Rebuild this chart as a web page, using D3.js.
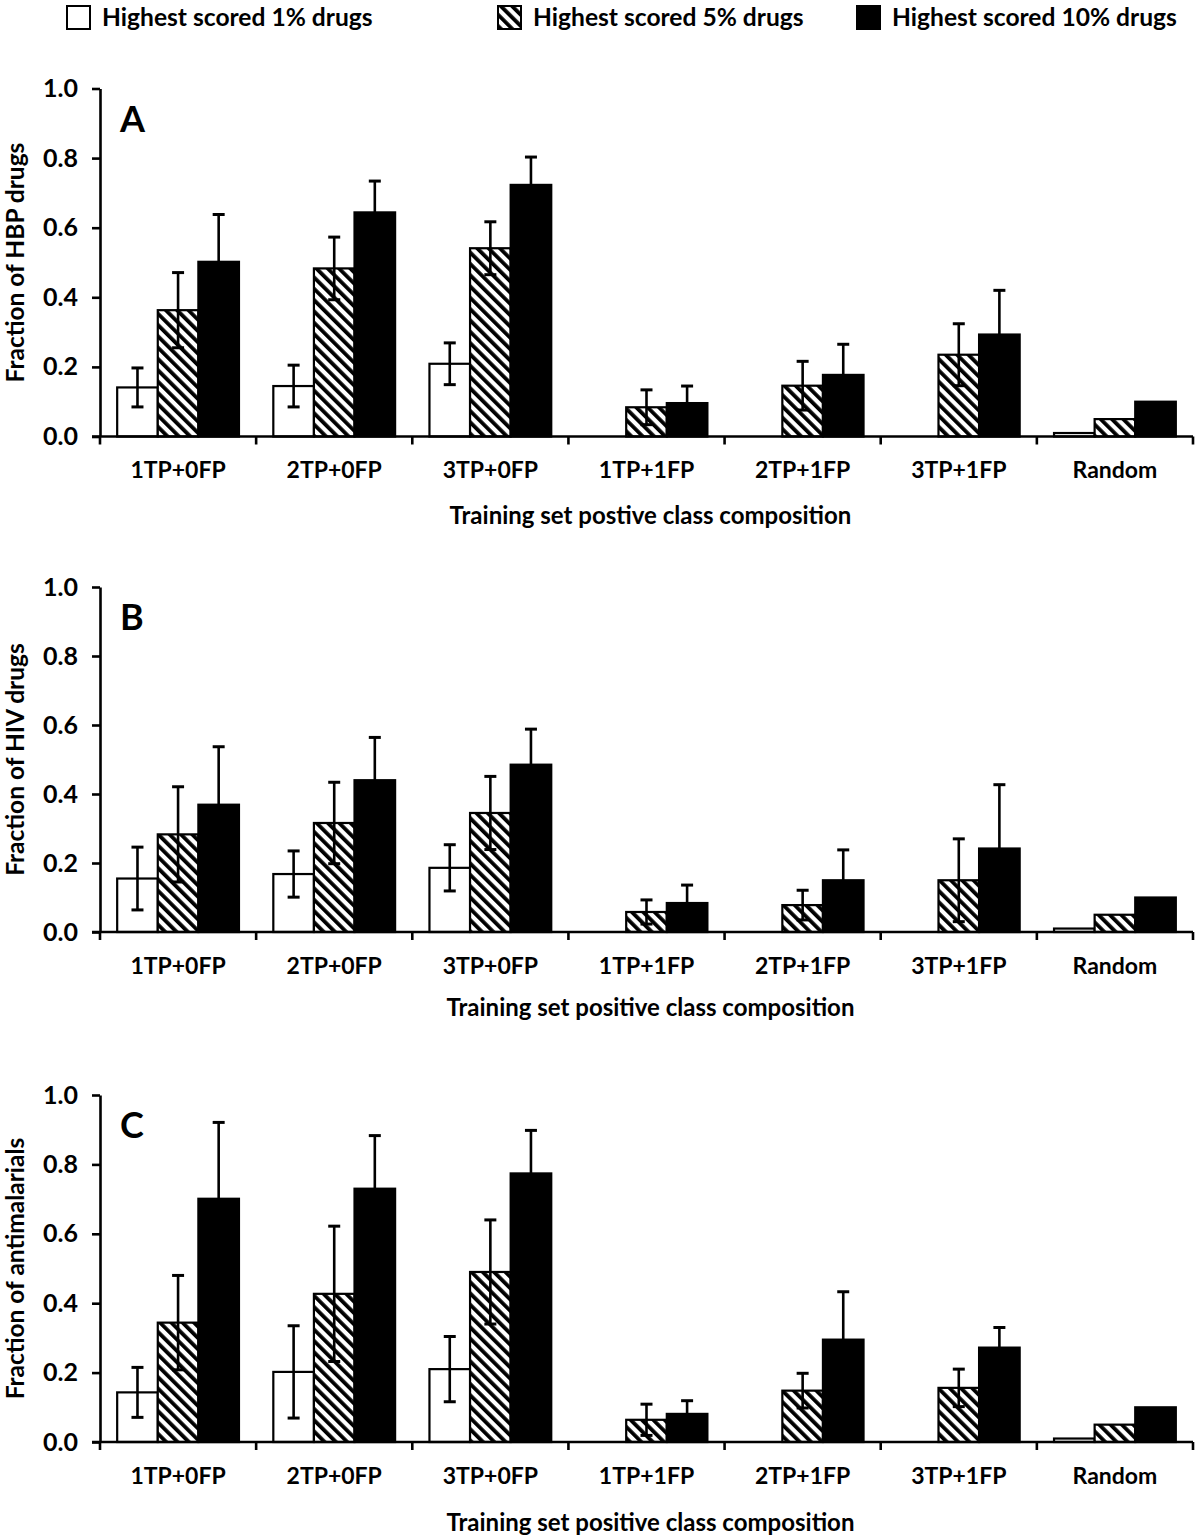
<!DOCTYPE html>
<html>
<head>
<meta charset="utf-8">
<script src="https://cdn.jsdelivr.net/npm/d3@7"></script>
<style>
  html, body { margin: 0; padding: 0; background: #fff; }
  svg text { font-family: Lato, "Open Sans", sans-serif; font-weight: bold; fill: #000; }
</style>
</head>
<body>
<svg id="chart" width="1200" height="1536"></svg>
<script>
// ---------- data ----------
const categories = ["1TP+0FP", "2TP+0FP", "3TP+0FP", "1TP+1FP", "2TP+1FP", "3TP+1FP", "Random"];
const seriesNames = ["Highest scored 1% drugs", "Highest scored 5% drugs", "Highest scored 10% drugs"];
const yTicks = [0.0, 0.2, 0.4, 0.6, 0.8, 1.0];

// Panel A: HBP drugs
const hbpTop1 = [0.141, 0.145, 0.209, 0, 0, 0, 0.01];
const hbpTop5 = [0.363, 0.483, 0.541, 0.084, 0.146, 0.235, 0.05];
const hbpTop10 = [0.502, 0.644, 0.723, 0.096, 0.177, 0.293, 0.10];
const hbpErr1 = [0.056, 0.060, 0.060, null, null, null, null];
const hbpErr5 = [0.108, 0.090, 0.076, 0.050, 0.070, 0.089, null];
const hbpErr10 = [0.136, 0.090, 0.080, 0.049, 0.088, 0.127, null];

// Panel B: HIV drugs
const hivTop1 = [0.155, 0.168, 0.186, 0, 0, 0, 0.01];
const hivTop5 = [0.283, 0.316, 0.345, 0.058, 0.078, 0.150, 0.05];
const hivTop10 = [0.369, 0.440, 0.485, 0.084, 0.150, 0.242, 0.10];
const hivErr1 = [0.091, 0.067, 0.067, null, null, null, null];
const hivErr5 = [0.138, 0.118, 0.106, 0.035, 0.043, 0.120, null];
const hivErr10 = [0.168, 0.124, 0.103, 0.052, 0.088, 0.185, null];

// Panel C: antimalarials
const malTop1 = [0.143, 0.202, 0.210, 0, 0, 0, 0.01];
const malTop5 = [0.344, 0.427, 0.490, 0.064, 0.148, 0.156, 0.05];
const malTop10 = [0.701, 0.730, 0.774, 0.081, 0.295, 0.272, 0.10];
const malErr1 = [0.072, 0.133, 0.094, null, null, null, null];
const malErr5 = [0.136, 0.195, 0.150, 0.045, 0.050, 0.054, null];
const malErr10 = [0.220, 0.153, 0.124, 0.038, 0.138, 0.058, null];

const panelLetters = ["A", "B", "C"];
const yTitles = ["Fraction of HBP drugs", "Fraction of HIV drugs", "Fraction of antimalarials"];
const xTitles = ["Training set postive class composition",
                 "Training set positive class composition",
                 "Training set positive class composition"];

const panelValues = [
  [hbpTop1, hbpTop5, hbpTop10],
  [hivTop1, hivTop5, hivTop10],
  [malTop1, malTop5, malTop10]
];
const panelErrors = [
  [hbpErr1, hbpErr5, hbpErr10],
  [hivErr1, hivErr5, hivErr10],
  [malErr1, malErr5, malErr10]
];

// ---------- layout ----------
const xLeft = 100, xRight = 1193;
const panelLayout = [
  { top: 88.5, base: 436.5, labelY: 470, titleY: 516 },
  { top: 587, base: 932, labelY: 966, titleY: 1008 },
  { top: 1095, base: 1442, labelY: 1476, titleY: 1523 }
];
const FONT = 24;

const svg = d3.select("#chart");

// hatch pattern
const defs = svg.append("defs");
const pat = defs.append("pattern")
  .attr("id", "hatch")
  .attr("patternUnits", "userSpaceOnUse")
  .attr("width", 8).attr("height", 8)
  .attr("patternTransform", "rotate(-45)");
pat.append("rect").attr("width", 8).attr("height", 8).attr("fill", "#fff");
pat.append("rect").attr("x", 0).attr("width", 3.8).attr("height", 8).attr("fill", "#000");

const fills = ["#fff", "url(#hatch)", "#000"];

const x = d3.scaleBand().domain(categories).range([xLeft, xRight])
  .paddingInner(0.22).paddingOuter(0.11);
const xs = d3.scaleBand().domain(d3.range(seriesNames.length)).range([0, x.bandwidth()]).padding(0);

// ---------- legend ----------
const legendX = [66, 497, 856];
const legend = svg.append("g");
seriesNames.forEach((name, i) => {
  const g = legend.append("g").attr("transform", `translate(${legendX[i]},5)`);
  g.append("rect").attr("x", 1).attr("y", 1).attr("width", 23).attr("height", 23)
    .attr("fill", fills[i]).attr("stroke", "#000").attr("stroke-width", 2);
  g.append("text").attr("x", 36).attr("y", 21).attr("font-size", 24.6).text(name);
});

// ---------- panels ----------
panelLayout.forEach((L, p) => {
  const y = d3.scaleLinear().domain([0, 1]).range([L.base, L.top]);
  const g = svg.append("g");

  // bars
  panelValues[p].forEach((vals, s) => {
    g.append("g").selectAll("rect")
      .data(categories.map((c, i) => ({ c, v: vals[i] })).filter(d => d.v > 0))
      .join("rect")
      .attr("x", d => x(d.c) + xs(s))
      .attr("y", d => y(d.v))
      .attr("width", xs.bandwidth())
      .attr("height", d => y(0) - y(d.v))
      .attr("fill", fills[s])
      .attr("stroke", "#000")
      .attr("stroke-width", 2.2);
  });

  // error bars
  panelErrors[p].forEach((errs, s) => {
    const vals = panelValues[p][s];
    const data = categories.map((c, i) => ({ c, v: vals[i], e: errs[i] })).filter(d => d.e != null);
    const eg = g.append("g").attr("stroke", "#000").attr("stroke-width", 2.6);
    data.forEach(d => {
      const cx = x(d.c) + xs(s) + xs.bandwidth() / 2;
      eg.append("line").attr("x1", cx).attr("x2", cx)
        .attr("y1", y(d.v + d.e)).attr("y2", y(Math.max(0, d.v - d.e)));
      eg.append("line").attr("x1", cx - 6).attr("x2", cx + 6)
        .attr("y1", y(d.v + d.e)).attr("y2", y(d.v + d.e)).attr("stroke-width", 3);
      eg.append("line").attr("x1", cx - 6).attr("x2", cx + 6)
        .attr("y1", y(Math.max(0, d.v - d.e))).attr("y2", y(Math.max(0, d.v - d.e))).attr("stroke-width", 3);
    });
  });

  // y axis
  const yAxis = d3.axisLeft(y).tickValues(yTicks).tickFormat(d3.format(".1f"))
    .tickSize(8).tickSizeOuter(0).tickPadding(14);
  const ya = g.append("g").attr("transform", `translate(${xLeft},0)`).call(yAxis);
  ya.select(".domain").attr("stroke-width", 2.6);
  ya.selectAll(".tick line").attr("stroke-width", 2.6);
  ya.selectAll(".tick text").attr("font-size", 25).attr("font-family", "Lato").attr("font-weight", "bold");

  // x axis: ticks at category boundaries
  const boundaries = categories.map(c => x(c) - x.step() * x.paddingInner() / 2).concat([xRight]);
  g.append("line").attr("x1", xLeft - 8).attr("x2", xRight)
    .attr("y1", L.base).attr("y2", L.base).attr("stroke", "#000").attr("stroke-width", 2.6);
  g.append("g").selectAll("line").data(boundaries).join("line")
    .attr("x1", d => d).attr("x2", d => d)
    .attr("y1", L.base).attr("y2", L.base + 8)
    .attr("stroke", "#000").attr("stroke-width", 2.6);
  g.append("g").selectAll("text").data(categories).join("text")
    .attr("x", d => x(d) + x.bandwidth() / 2)
    .attr("y", L.labelY + 8)
    .attr("text-anchor", "middle")
    .attr("font-size", 23)
    .text(d => d);

  // x title
  g.append("text").attr("x", (xLeft + xRight) / 2 + 4).attr("y", L.titleY + 8)
    .attr("text-anchor", "middle").attr("font-size", FONT).text(xTitles[p]);

  // y title
  g.append("text")
    .attr("transform", `translate(24,${(L.top + L.base) / 2}) rotate(-90)`)
    .attr("text-anchor", "middle").attr("font-size", 24.5).text(yTitles[p]);

  // panel letter
  g.append("text").attr("x", 120).attr("y", L.top + 43)
    .attr("font-size", 36).text(panelLetters[p]);
});
</script>
</body>
</html>
